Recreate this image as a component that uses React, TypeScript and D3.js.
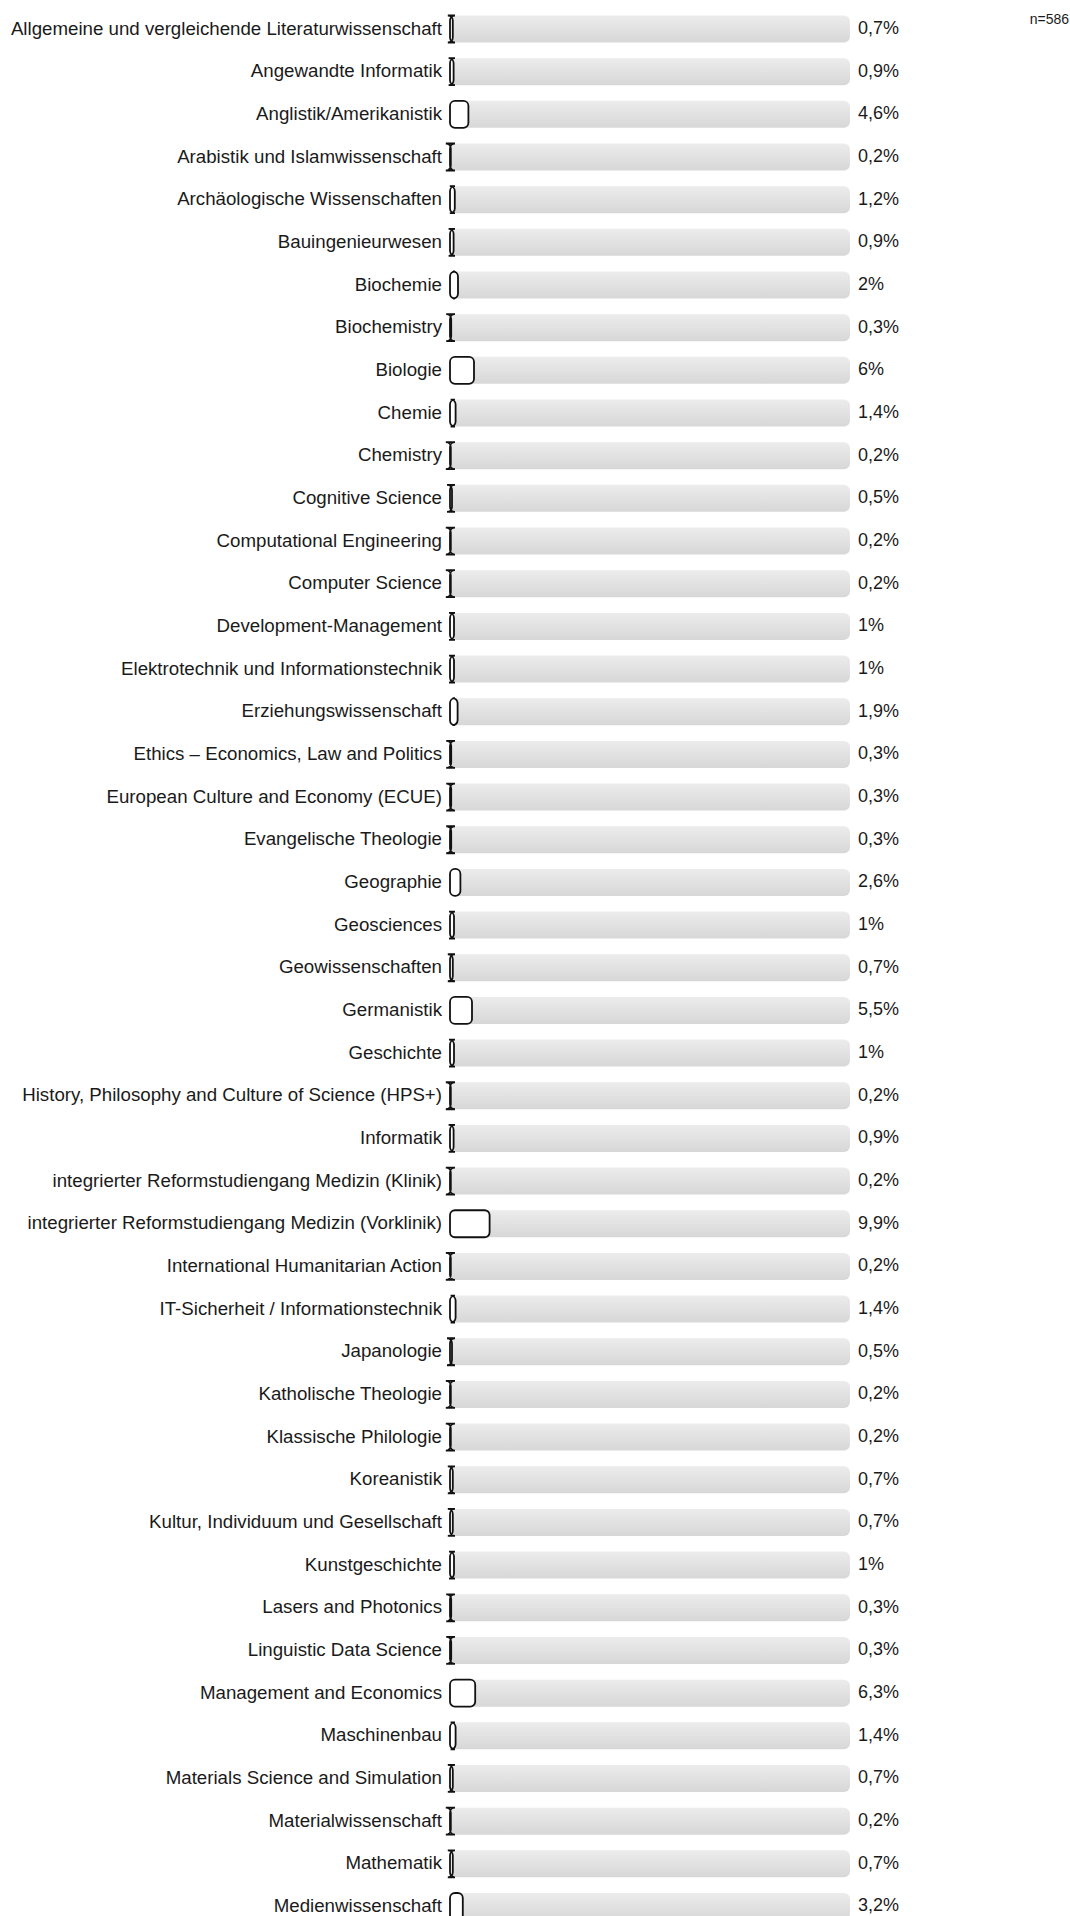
import { useEffect, useRef } from "react";
import * as d3 from "d3";

const categories: string[] = [
	"Allgemeine und vergleichende Literaturwissenschaft",
	"Angewandte Informatik",
	"Anglistik/Amerikanistik",
	"Arabistik und Islamwissenschaft",
	"Archäologische Wissenschaften",
	"Bauingenieurwesen",
	"Biochemie",
	"Biochemistry",
	"Biologie",
	"Chemie",
	"Chemistry",
	"Cognitive Science",
	"Computational Engineering",
	"Computer Science",
	"Development-Management",
	"Elektrotechnik und Informationstechnik",
	"Erziehungswissenschaft",
	"Ethics – Economics, Law and Politics",
	"European Culture and Economy (ECUE)",
	"Evangelische Theologie",
	"Geographie",
	"Geosciences",
	"Geowissenschaften",
	"Germanistik",
	"Geschichte",
	"History, Philosophy and Culture of Science (HPS+)",
	"Informatik",
	"integrierter Reformstudiengang Medizin (Klinik)",
	"integrierter Reformstudiengang Medizin (Vorklinik)",
	"International Humanitarian Action",
	"IT-Sicherheit / Informationstechnik",
	"Japanologie",
	"Katholische Theologie",
	"Klassische Philologie",
	"Koreanistik",
	"Kultur, Individuum und Gesellschaft",
	"Kunstgeschichte",
	"Lasers and Photonics",
	"Linguistic Data Science",
	"Management and Economics",
	"Maschinenbau",
	"Materials Science and Simulation",
	"Materialwissenschaft",
	"Mathematik",
	"Medienwissenschaft"
];

const shares: number[] = [
	0.7, 0.9, 4.6, 0.2, 1.2, 0.9, 2, 0.3, 6, 1.4, 0.2, 0.5, 0.2, 0.2, 1, 1, 1.9, 0.3, 0.3, 0.3,
	2.6, 1, 0.7, 5.5, 1, 0.2, 0.9, 0.2, 9.9, 0.2, 1.4, 0.5, 0.2, 0.2, 0.7, 0.7, 1, 0.3, 0.3, 6.3,
	1.4, 0.7, 0.2, 0.7, 3.2
];

const sampleSize = 586;

const formatShare = (value: number) => `${String(value).replace(".", ",")}%`;

// rounded rect drawn with a fixed corner radius, so tiny widths get the "I" look
const roundedPath = (x: number, y: number, w: number, h: number, r: number) =>
	`M${x + r},${y}H${x + w - r}A${r},${r} 0 0 1 ${x + w},${y + r}V${y + h - r}` +
	`A${r},${r} 0 0 1 ${x + w - r},${y + h}H${x + r}A${r},${r} 0 0 1 ${x},${y + h - r}` +
	`V${y + r}A${r},${r} 0 0 1 ${x + r},${y}Z`;

export default function App() {
	const containerRef = useRef<HTMLDivElement>(null);

	useEffect(() => {
		if (!containerRef.current) {
			return;
		}
		const container = containerRef.current;
		const width = 1070;
		const height = 1916;

		const step = 42.67;
		const barHeight = 27;
		const top = 15.5;
		const gap = step - barHeight;
		const barLeft = 450;
		const barWidth = 400;
		const font = "'Liberation Sans', Arial, Helvetica, sans-serif";

		const data = categories.map((name, index) => ({ name, value: shares[index] }));

		const svg = d3
			.select(container)
			.append("svg")
			.attr("width", width)
			.attr("height", height)
			.style("display", "block")
			.attr("font-family", font);

		const defs = svg.append("defs");
		const gradient = defs
			.append("linearGradient")
			.attr("id", "track")
			.attr("x1", 0)
			.attr("y1", 0)
			.attr("x2", 0)
			.attr("y2", 1);
		gradient.append("stop").attr("offset", "0%").attr("stop-color", "#ececec");
		gradient.append("stop").attr("offset", "100%").attr("stop-color", "#d7d7d7");

		const xScale = d3.scaleLinear().domain([0, 100]).range([barLeft, barLeft + barWidth]);
		const yScale = d3
			.scaleBand()
			.domain(categories)
			.range([top, top + categories.length * step - gap])
			.paddingInner(gap / step)
			.paddingOuter(0);

		const rows = svg
			.selectAll("g.row")
			.data(data)
			.join("g")
			.attr("class", "row");

		rows
			.append("rect")
			.attr("x", xScale(0))
			.attr("y", (d) => yScale(d.name) ?? 0)
			.attr("width", xScale(100) - xScale(0))
			.attr("height", yScale.bandwidth())
			.attr("rx", 6)
			.attr("fill", "url(#track)");

		rows
			.append("path")
			.attr("d", (d) =>
				roundedPath(
					xScale(0),
					yScale(d.name) ?? 0,
					xScale(d.value) - xScale(0),
					yScale.bandwidth(),
					5
				)
			)
			.attr("fill", "#ffffff")
			.attr("stroke", "#111111")
			.attr("stroke-width", 1.8);

		rows
			.append("text")
			.attr("x", xScale(0) - 8)
			.attr("y", (d) => (yScale(d.name) ?? 0) + yScale.bandwidth() / 2 - 1)
			.attr("text-anchor", "end")
			.attr("dominant-baseline", "central")
			.attr("font-size", 18.7)
			.attr("fill", "#1a1a1a")
			.text((d) => d.name);

		rows
			.append("text")
			.attr("x", xScale(100) + 8)
			.attr("y", (d) => (yScale(d.name) ?? 0) + yScale.bandwidth() / 2 - 1)
			.attr("dominant-baseline", "central")
			.attr("font-size", 18)
			.attr("fill", "#1a1a1a")
			.text((d) => formatShare(d.value));

		svg
			.append("text")
			.attr("x", width - 1)
			.attr("y", 19)
			.attr("text-anchor", "end")
			.attr("dominant-baseline", "central")
			.attr("font-size", 14)
			.attr("fill", "#1a1a1a")
			.text(`n=${sampleSize}`);

		return () => {
			svg.remove();
		};
	}, []);

	return (
		<div
			ref={containerRef}
			style={{ position: "absolute", left: 0, top: 0, width: 1070, height: 1916, overflow: "hidden" }}
		/>
	);
}
